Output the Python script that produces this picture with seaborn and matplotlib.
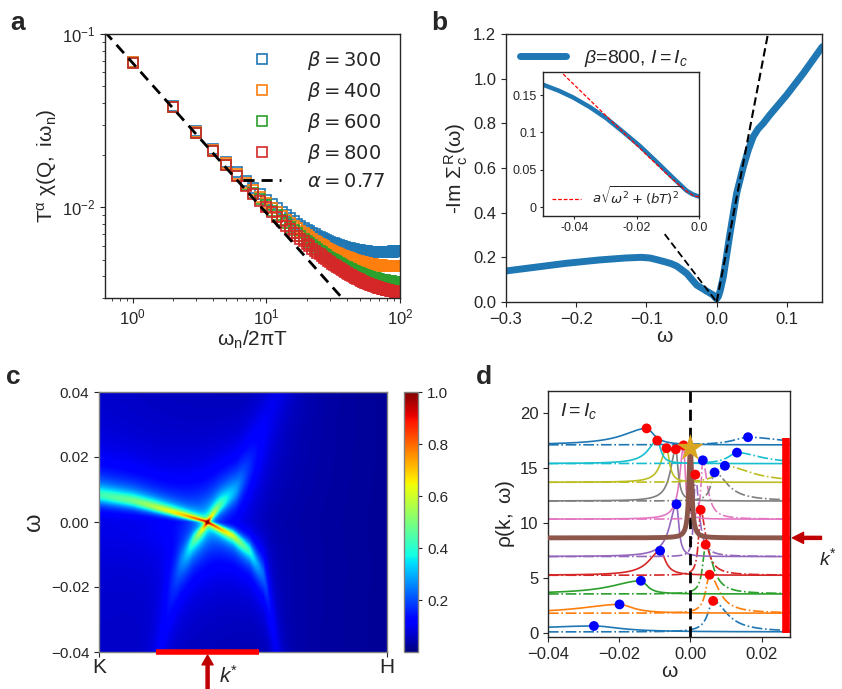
import numpy as np
import matplotlib
matplotlib.use('Agg')
import matplotlib.pyplot as plt
import seaborn as sns

# ---------------- panel a : T^alpha chi(Q, i w_n) -----------------
betas = [300, 400, 600, 800]
beta_colors = ['#1f77b4', '#ff7f0e', '#2ca02c', '#d62728']
n_matsubara = 100
chi_amp = 0.068           # value of the power-law line at w_n/2piT = 1
chi_slope = 0.865         # slope of that line on log-log axes
chi_cross = [37.2, 46, 59.3, 70.4]   # w_n/2piT where each beta leaves the line
chi_bend = 1.25
alpha_fit = 0.77

# ---------------- panel b : -Im Sigma_c^R(w) ----------------------
sigma_w = [-0.30, -0.255, -0.215, -0.168, -0.13, -0.1075, -0.095, -0.087, -0.075,
           -0.065, -0.0569, -0.0427, -0.0285, -0.015, -0.0048, -0.0025, 0.0,
           0.0025, 0.005, 0.0095, 0.019, 0.0285, 0.038, 0.045, 0.052, 0.059,
           0.0664, 0.075, 0.0855, 0.0997, 0.1234, 0.1504]
sigma_y = [0.139, 0.157, 0.173, 0.188, 0.197, 0.200, 0.197, 0.191, 0.181,
           0.172, 0.161, 0.128, 0.076, 0.050, 0.031, 0.021, 0.014,
           0.025, 0.050, 0.113, 0.307, 0.487, 0.606, 0.680, 0.740, 0.775,
           0.800, 0.835, 0.874, 0.927, 1.024, 1.143]
fit_left_w, fit_left_y = [-0.074, 0.0], [0.304, 0.0]
fit_right_w, fit_right_y = [0.0, 0.073], [0.0, 1.2]

inset_w = [-0.05, -0.045, -0.0404, -0.035, -0.0297, -0.0244, -0.019, -0.0137,
           -0.0083, -0.004, -0.002, 0.0]
inset_y = [0.164, 0.156, 0.147, 0.134, 0.119, 0.101, 0.082, 0.061,
           0.039, 0.022, 0.017, 0.014]
fit_a, fit_bT = 4.08, 0.0034

# ---------------- panel c : spectral map along K-H ----------------
band1_k = [0.0, 0.118, 0.234, 0.377, 0.466, 0.524, 0.571, 0.582, 0.617]
band1_w = [0.0089, 0.0069, 0.0038, 0.0, -0.0044, -0.0095, -0.0177, -0.022, -0.04]
band2_k = [0.211, 0.246, 0.281, 0.327, 0.377, 0.42, 0.479, 0.53]
band2_w = [-0.04, -0.026, -0.0157, -0.0065, 0.0, 0.0058, 0.012, 0.022]
band_weight = [0.75, 0.55]
band_decay = [0.01, 0.009]
band_spread = [0.3, 0.5]
k_star = 0.377
k_window = [0.197, 0.557]

# ---------------- panel d : rho(k, w) cuts -------------------------
row_colors = ['C0', 'C1', 'C2', 'C3', 'C4', 'C5', 'C6', 'C7', 'C8', 'C9', 'C0']
row_offset = [0.1, 1.8, 3.55, 5.25, 6.95, 8.65, 10.35, 12.0, 13.7, 15.4, 17.1]
solid_w = [-0.0271, -0.0199, -0.0139, -0.0085, -0.0039, 0.0, -0.0019, -0.0041, -0.0067, -0.0093, -0.0123]
solid_h = [0.54, 0.8, 1.2, 2.23, 4.75, 8.15, 6.71, 4.7, 3.1, 2.1, 1.5]
solid_g_in = [0.009, 0.0046, 0.0022, 0.0018, 0.0008, 0.0005, 0.0006, 0.0008, 0.001, 0.0012, 0.0026]
solid_g_out = [0.025, 0.013, 0.010, 0.0038, 0.0023, 0.0005, 0.0013, 0.0018, 0.0019, 0.0031, 0.008]
dash_w = [0.0064, 0.0054, 0.0043, 0.0029, 0.0014, 0.0, 0.0035, 0.0068, 0.0097, 0.0131, 0.0162]
dash_h = [2.82, 3.5, 4.48, 5.95, 7.45, 8.15, 5.35, 2.6, 1.5, 1.0, 0.7]
dash_g_in = [0.0018, 0.0013, 0.001, 0.0007, 0.0005, 0.0005, 0.0006, 0.0012, 0.0025, 0.003, 0.005]
dash_g_out = [0.0047, 0.0032, 0.0024, 0.0017, 0.0012, 0.0005, 0.0015, 0.0043, 0.0087, 0.008, 0.012]
star_row = 5

sns.set_style('ticks')
plt.rcParams['font.family'] = ['Liberation Sans', 'DejaVu Sans']
plt.rcParams['mathtext.fontset'] = 'custom'
plt.rcParams['mathtext.rm'] = 'Liberation Sans'
plt.rcParams['mathtext.it'] = 'Liberation Sans:italic'
plt.rcParams['mathtext.bf'] = 'Liberation Sans:bold'
plt.rcParams['mathtext.sf'] = 'Liberation Sans'
plt.rcParams['mathtext.fallback'] = 'stixsans'
plt.rcParams['axes.edgecolor'] = '0.15'
plt.rcParams['axes.linewidth'] = 1.0

W, H = 842, 689
fig = plt.figure(figsize=(W / 100, H / 100), dpi=100)
MINUS = '\u2212'


def box(x0, y0, x1, y1):
    # pixel box -> figure fraction
    return [x0 / W, 1 - y1 / H, (x1 - x0) / W, (y1 - y0) / H]


def ticklabels(vals, fmt):
    return [(fmt % v).replace('-', MINUS) if abs(v) > 1e-12 else fmt % 0 for v in vals]


def extrap_interp(x, xp, fp):
    # piecewise linear through the read points, straight on past the ends
    y = np.interp(x, xp, fp)
    s0 = (fp[1] - fp[0]) / (xp[1] - xp[0])
    s1 = (fp[-1] - fp[-2]) / (xp[-1] - xp[-2])
    y = np.where(x < xp[0], fp[0] + s0 * (x - xp[0]), y)
    y = np.where(x > xp[-1], fp[-1] + s1 * (x - xp[-1]), y)
    return y


# ================= a =================
ax = fig.add_axes(box(105, 34, 400, 298))
xn = np.arange(1, n_matsubara + 1)
for b, c, xc in zip(betas, beta_colors, chi_cross):
    yv = chi_amp * xn ** (-chi_slope) * (1 + (xn / xc) ** chi_bend)
    sns.lineplot(x=xn, y=yv, ax=ax, color=c, marker='s', linestyle='', ms=6.5,
                 mfc='none', mec=c, mew=1.2, estimator=None, errorbar=None,
                 label=r'$\beta = %d$' % b)
xl = np.array([0.5, 100])
sns.lineplot(x=xl, y=chi_amp * xl ** (-chi_slope), ax=ax, color='k', lw=2,
             linestyle=(0, (4, 2.5)), estimator=None, errorbar=None,
             label=r'$\alpha = %.2f$' % alpha_fit)
ax.set_xscale('log')
ax.set_yscale('log')
ax.set_xlim(0.62, 100)
ax.set_ylim(3e-3, 0.1)
ax.yaxis.set_minor_formatter(matplotlib.ticker.NullFormatter())
ax.xaxis.set_minor_formatter(matplotlib.ticker.NullFormatter())
ax.tick_params(labelsize=12)
ax.set_xlabel(r'$\mathrm{\omega_n/2\pi T}$', fontsize=15, labelpad=1)
ax.set_ylabel(r'$\mathrm{T^{\alpha}\ \chi(Q,\ i\omega_n)}$', fontsize=15, labelpad=2)
leg = ax.legend(loc='upper right', frameon=False, fontsize=14, handlelength=2.0,
                handletextpad=1.3, labelspacing=0.42, borderaxespad=0.35)
for t in leg.get_texts():
    t.set_math_fontfamily('dejavusans')

# ================= b =================
ax = fig.add_axes(box(506, 34, 822, 302))
sns.lineplot(x=sigma_w, y=sigma_y, ax=ax, color='#1f77b4', lw=5, estimator=None,
             errorbar=None, sort=False, label=r'$\beta$=800, $I = I_c$')
ax.plot(fit_left_w, fit_left_y, color='k', lw=1.3, ls=(0, (4, 2)))
ax.plot(fit_right_w, fit_right_y, color='k', lw=1.5, ls=(0, (4, 2)))
ax.set_xlim(-0.3, 0.15)
ax.set_ylim(0, 1.2)
bx = [-0.3, -0.2, -0.1, 0.0, 0.1]
ax.set_xticks(bx)
ax.set_xticklabels(ticklabels(bx, '%.1f'))
by = [0.0, 0.2, 0.4, 0.6, 0.8, 1.0, 1.2]
ax.set_yticks(by)
ax.set_yticklabels(ticklabels(by, '%.1f'))
ax.tick_params(labelsize=12)
ax.set_xlabel('ω', fontsize=15, labelpad=0)
ax.set_ylabel(r'-Im $\mathrm{\Sigma^R_c(\omega)}$', fontsize=15, labelpad=2)
ax.legend(loc='upper left', frameon=False, fontsize=14, handlelength=2.4,
          handletextpad=0.9, borderaxespad=0.3)

axi = fig.add_axes(box(543, 72, 699, 216))
sns.lineplot(x=inset_w, y=inset_y, ax=axi, color='#1f77b4', lw=3.2, estimator=None,
             errorbar=None, sort=False)
wf = np.linspace(-0.05, 0.0, 200)
axi.plot(wf, fit_a * np.sqrt(wf ** 2 + fit_bT ** 2), color='red', lw=0.9,
         ls=(0, (3, 1.5)), label=r'$a\sqrt{\omega^2+(bT)^2}$')
axi.set_xlim(-0.05, 0.0)
axi.set_ylim(-0.012, 0.181)
axi.set_xticks([-0.04, -0.02, 0.0])
axi.set_xticklabels(['-0.04', '-0.02', '0.0'])
axi.set_yticks([0, 0.05, 0.1, 0.15])
axi.set_yticklabels(['0', '0.05', '0.1', '0.15'])
axi.tick_params(labelsize=9, length=2.5, pad=2)
lg = axi.legend(loc='lower left', frameon=False, fontsize=9.5, handlelength=2.2,
                borderaxespad=0.3)
for t in lg.get_texts():
    t.set_math_fontfamily('dejavusans')

# ================= c =================
ax = fig.add_axes(box(99, 392, 387, 652))
kk = np.linspace(0, 1, 500)
ww = np.linspace(-0.04, 0.04, 400)
K, Wg = np.meshgrid(kk, ww)
img = 0.02 + 0.04 * (1 - K)
for bk, bw, amp, dec, spr in zip([band1_k, band2_k], [band1_w, band2_w], band_weight,
                                 band_decay, band_spread):
    eps = extrap_interp(K, bk, bw)
    g = 0.0005 + spr * np.abs(Wg)
    img += amp * np.exp(-np.abs(Wg) / dec) * g ** 2 / ((Wg - eps) ** 2 + g ** 2)
    img += 0.05 * 0.011 ** 2 / ((Wg - eps) ** 2 + 0.011 ** 2)
im = ax.imshow(img, origin='lower', extent=[0, 1, -0.04, 0.04], aspect='auto',
               cmap='jet', vmin=0, vmax=1, interpolation='bilinear')
ax.set_xlim(0, 1)
ax.set_ylim(-0.04, 0.04)
ax.set_xticks([0, 1])
ax.set_xticklabels(['K', 'H'], fontsize=15)
cy = [0.04, 0.02, 0.0, -0.02, -0.04]
ax.set_yticks(cy)
ax.set_yticklabels(ticklabels(cy, '%.2f'))
ax.tick_params(axis='y', labelsize=11)
ax.tick_params(axis='x', pad=1)
for s in ax.spines.values():
    s.set_color('0.5')
ax.set_ylabel('ω', fontsize=17, labelpad=4)
ax.plot(k_window, [-0.04, -0.04], color='red', lw=4, clip_on=False, zorder=5,
        solid_capstyle='butt')
ax.annotate('', xy=(k_star, -0.012), xytext=(k_star, -0.145), xycoords='axes fraction',
            arrowprops=dict(color='#c00000', width=2.2, headwidth=8, headlength=7))
ax.text(k_star + 0.04, -0.09, r'$k^{*}$', transform=ax.transAxes, fontsize=15,
        va='center', ha='left')
cax = fig.add_axes(box(404, 392, 418, 652))
cb = fig.colorbar(im, cax=cax, ticks=[0.2, 0.4, 0.6, 0.8, 1.0])
cb.ax.tick_params(labelsize=11, length=3)
cb.outline.set_edgecolor('0.5')

# ================= d =================
ax = fig.add_axes(box(548, 391, 790, 637))
wd = np.linspace(-0.04, 0.028, 900)


def peak(w0, h, g_in, g_out):
    outer = (wd - w0) * np.sign(w0) > 0
    g = np.where(outer, g_out, g_in)
    return h / (1 + ((wd - w0) / g) ** 2)


for i, c in enumerate(row_colors):
    base = row_offset[i]
    ys = base + peak(solid_w[i], solid_h[i], solid_g_in[i], solid_g_out[i])
    if i == star_row:
        sns.lineplot(x=wd, y=ys, ax=ax, color=c, lw=3.5, estimator=None,
                     errorbar=None, sort=False, zorder=3)
        continue
    yd = base + peak(dash_w[i], dash_h[i], dash_g_in[i], dash_g_out[i])
    sns.lineplot(x=wd, y=yd, ax=ax, color=c, lw=1.2, linestyle='-.', estimator=None,
                 errorbar=None, sort=False)
    sns.lineplot(x=wd, y=ys, ax=ax, color=c, lw=1.2, estimator=None,
                 errorbar=None, sort=False)
ax.axvline(0, color='k', lw=2, ls=(0, (4, 2.5)), zorder=2.5)

lower = list(range(star_row))
upper = list(range(star_row + 1, len(row_offset)))
blue_x = [solid_w[i] for i in lower] + [dash_w[i] for i in upper]
blue_y = [row_offset[i] + solid_h[i] for i in lower] + [row_offset[i] + dash_h[i] for i in upper]
red_x = [dash_w[i] for i in lower] + [solid_w[i] for i in upper]
red_y = [row_offset[i] + dash_h[i] for i in lower] + [row_offset[i] + solid_h[i] for i in upper]
sns.scatterplot(x=blue_x, y=blue_y, ax=ax, color='blue', s=50, edgecolor='none', zorder=6)
sns.scatterplot(x=red_x, y=red_y, ax=ax, color='red', s=50, edgecolor='none', zorder=6)
sns.scatterplot(x=[solid_w[star_row]], y=[row_offset[star_row] + solid_h[star_row]], ax=ax,
                color='#DAA520', marker='*', s=420, edgecolor='none', zorder=7)
ax.plot([0.0268, 0.0268], [row_offset[0] - 0.1, row_offset[-1] + 0.6], color='red',
        lw=5.5, solid_capstyle='butt', zorder=5)
ky = (row_offset[star_row] + 0.36) / 22.36
ax.annotate('', xy=(1.01, ky), xytext=(1.13, ky), xycoords='axes fraction',
            arrowprops=dict(color='#c00000', width=2.2, headwidth=8, headlength=8))
ax.text(1.12, 0.32, r'$k^{*}$', transform=ax.transAxes, fontsize=14, va='center', ha='left')
ax.text(0.05, 0.92, r'$I = I_c$', transform=ax.transAxes, fontsize=14, va='center')
ax.set_xlim(-0.04, 0.028)
ax.set_ylim(-0.36, 22)
dx = [-0.04, -0.02, 0.0, 0.02]
ax.set_xticks(dx)
ax.set_xticklabels(ticklabels(dx, '%.2f'))
ax.set_yticks([0, 5, 10, 15, 20])
ax.tick_params(labelsize=12)
ax.set_xlabel('ω', fontsize=15, labelpad=0)
ax.set_ylabel(r'$\mathrm{\rho(k,\ \omega)}$', fontsize=15, labelpad=2)

# panel letters
for lab, x, y in [('a', 10, 30), ('b', 431, 30), ('c', 6, 384), ('d', 476, 384)]:
    fig.text(x / W, 1 - y / H, lab, fontsize=19, fontweight='bold')

fig.savefig('out.png', dpi=100)
